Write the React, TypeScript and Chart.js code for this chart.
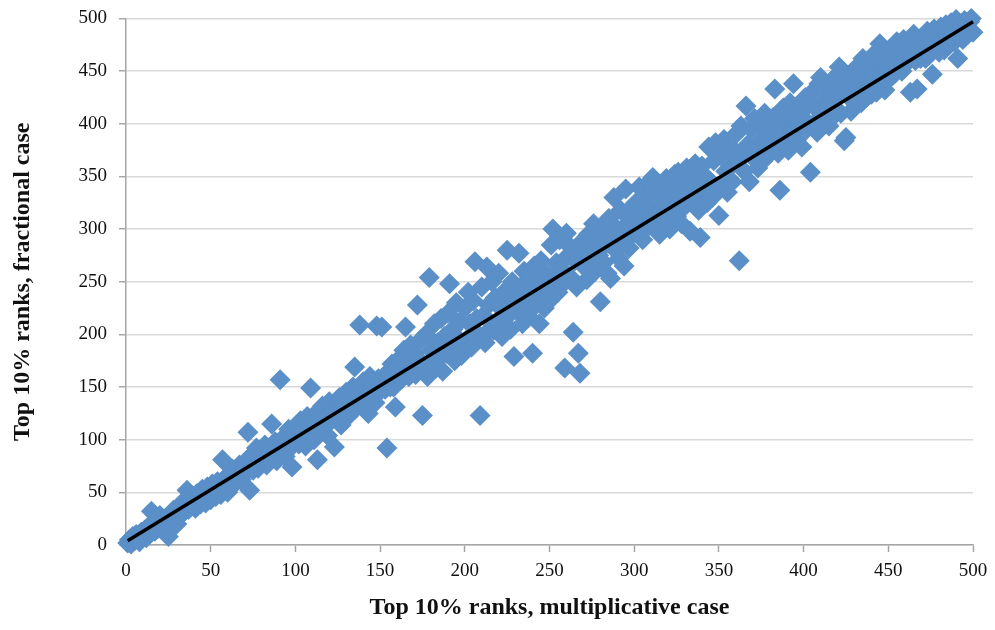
import { useEffect, useRef } from "react";
import { Chart, registerables } from "chart.js";

Chart.register(...registerables);

const axisTicks = [0, 50, 100, 150, 200, 250, 300, 350, 400, 450, 500];

const multiplicativeRank = [
  1, 2, 3, 4, 5, 6, 7, 8, 9, 10, 11, 12, 13, 14, 15, 16, 17, 18, 19, 20,
  21, 22, 23, 24, 25, 26, 27, 28, 29, 30, 31, 32, 33, 34, 35, 36, 37, 38, 39, 40,
  41, 42, 43, 44, 45, 46, 47, 48, 49, 50, 51, 52, 53, 54, 55, 56, 57, 58, 59, 60,
  61, 62, 63, 64, 65, 66, 67, 68, 69, 70, 71, 72, 73, 74, 75, 76, 77, 78, 79, 80,
  81, 82, 83, 84, 85, 86, 87, 88, 89, 90, 91, 92, 93, 94, 95, 96, 97, 98, 99, 100,
  101, 102, 103, 104, 105, 106, 107, 108, 109, 110, 111, 112, 113, 114, 115, 116, 117, 118, 119, 120,
  121, 122, 123, 124, 125, 126, 127, 128, 129, 130, 131, 132, 133, 134, 135, 136, 137, 138, 139, 140,
  141, 142, 143, 144, 145, 146, 147, 148, 149, 150, 151, 152, 153, 154, 155, 156, 157, 158, 159, 160,
  161, 162, 163, 164, 165, 166, 167, 168, 169, 170, 171, 172, 173, 174, 175, 176, 177, 178, 179, 180,
  181, 182, 183, 184, 185, 186, 187, 188, 189, 190, 191, 192, 193, 194, 195, 196, 197, 198, 199, 200,
  201, 202, 203, 204, 205, 206, 207, 208, 209, 210, 211, 212, 213, 214, 215, 216, 217, 218, 219, 220,
  221, 222, 223, 224, 225, 226, 227, 228, 229, 230, 231, 232, 233, 234, 235, 236, 237, 238, 239, 240,
  241, 242, 243, 244, 245, 246, 247, 248, 249, 250, 251, 252, 253, 254, 255, 256, 257, 258, 259, 260,
  261, 262, 263, 264, 265, 266, 267, 268, 269, 270, 271, 272, 273, 274, 275, 276, 277, 278, 279, 280,
  281, 282, 283, 284, 285, 286, 287, 288, 289, 290, 291, 292, 293, 294, 295, 296, 297, 298, 299, 300,
  301, 302, 303, 304, 305, 306, 307, 308, 309, 310, 311, 312, 313, 314, 315, 316, 317, 318, 319, 320,
  321, 322, 323, 324, 325, 326, 327, 328, 329, 330, 331, 332, 333, 334, 335, 336, 337, 338, 339, 340,
  341, 342, 343, 344, 345, 346, 347, 348, 349, 350, 351, 352, 353, 354, 355, 356, 357, 358, 359, 360,
  361, 362, 363, 364, 365, 366, 367, 368, 369, 370, 371, 372, 373, 374, 375, 376, 377, 378, 379, 380,
  381, 382, 383, 384, 385, 386, 387, 388, 389, 390, 391, 392, 393, 394, 395, 396, 397, 398, 399, 400,
  401, 402, 403, 404, 405, 406, 407, 408, 409, 410, 411, 412, 413, 414, 415, 416, 417, 418, 419, 420,
  421, 422, 423, 424, 425, 426, 427, 428, 429, 430, 431, 432, 433, 434, 435, 436, 437, 438, 439, 440,
  441, 442, 443, 444, 445, 446, 447, 448, 449, 450, 451, 452, 453, 454, 455, 456, 457, 458, 459, 460,
  461, 462, 463, 464, 465, 466, 467, 468, 469, 470, 471, 472, 473, 474, 475, 476, 477, 478, 479, 480,
  481, 482, 483, 484, 485, 486, 487, 488, 489, 490, 491, 492, 493, 494, 495, 496, 497, 498, 499, 500,
];

const fractionalRank = [
  2, 5, 1, 8, 4, 10, 6, 3, 12, 9, 14, 7, 17, 12, 32, 18, 13, 24, 16, 28,
  19, 14, 25, 11, 8, 27, 21, 33, 26, 20, 36, 28, 40, 31, 38, 52, 34, 44, 37, 46,
  35, 49, 42, 39, 53, 44, 40, 55, 47, 43, 58, 49, 46, 60, 53, 48, 81, 63, 55, 50,
  66, 60, 72, 58, 70, 64, 76, 62, 74, 68, 80, 107, 52, 85, 71, 79, 92, 73, 88, 78,
  84, 95, 76, 90, 81, 115, 86, 98, 80, 94, 157, 88, 102, 84, 97, 110, 92, 74, 105, 98,
  112, 96, 118, 101, 108, 94, 122, 104, 149, 113, 100, 125, 81, 117, 108, 132, 112, 121, 104, 136,
  118, 127, 93, 130, 120, 140, 114, 134, 126, 145, 122, 138, 128, 150, 169, 130, 142, 209, 134, 155,
  138, 148, 125, 160, 143, 152, 135, 208, 158, 146, 207, 160, 148, 92, 164, 150, 172, 150, 131, 168,
  158, 178, 158, 185, 207, 170, 160, 190, 165, 182, 162, 228, 176, 195, 123, 170, 200, 160, 254, 185,
  175, 210, 168, 192, 178, 215, 165, 198, 182, 220, 248, 188, 205, 175, 230, 196, 212, 180, 185, 225,
  195, 240, 210, 188, 232, 269, 215, 200, 123, 245, 218, 192, 264, 228, 205, 250, 204, 235, 212, 258,
  225, 198, 240, 215, 280, 230, 205, 250, 179, 238, 222, 277, 245, 210, 260, 232, 218, 255, 240, 182,
  265, 228, 248, 210, 270, 238, 225, 258, 242, 232, 285, 300, 250, 268, 240, 290, 262, 248, 168, 296,
  275, 255, 282, 202, 270, 245, 182, 163, 288, 265, 278, 252, 295, 270, 285, 305, 260, 290, 275, 231,
  300, 268, 285, 258, 310, 253, 295, 330, 280, 300, 272, 318, 290, 265, 338, 305, 282, 320, 295, 310,
  325, 298, 340, 312, 290, 330, 318, 302, 345, 320, 349, 305, 335, 315, 295, 340, 325, 310, 348, 330,
  300, 338, 320, 352, 312, 354, 330, 305, 345, 322, 358, 335, 298, 350, 328, 362, 340, 318, 292, 360,
  335, 350, 325, 378, 345, 330, 365, 382, 340, 313, 370, 340, 385, 355, 335, 375, 360, 345, 375, 390,
  365, 270, 398, 372, 355, 417, 380, 345, 395, 368, 405, 378, 358, 400, 385, 365, 410, 388, 370, 402,
  380, 406, 433, 390, 372, 337, 395, 415, 382, 400, 375, 420, 395, 438, 408, 385, 412, 398, 378, 405,
  425, 395, 418, 354, 430, 400, 415, 392, 438, 444, 420, 405, 432, 412, 398, 440, 422, 408, 445, 425,
  454, 410, 435, 384, 387, 440, 425, 412, 448, 432, 418, 455, 438, 420, 462, 442, 425, 450, 435, 428,
  465, 445, 430, 458, 476, 440, 455, 432, 468, 448, 470, 445, 462, 448, 478, 455, 470, 450, 480, 462,
  458, 475, 430, 468, 485, 460, 433, 478, 462, 482, 470, 462, 488, 465, 478, 447, 490, 472, 482, 468,
  492, 478, 470, 494, 482, 475, 496, 485, 478, 499, 462, 488, 495, 480, 498, 490, 485, 497, 500, 487,
];

const trendX = [1, 500];
const trendY = [4, 497];

const xTitle = "Top 10% ranks, multiplicative case";
const yTitle = "Top 10% ranks, fractional case";

const SERIF = "'Liberation Serif', 'DejaVu Serif', serif";
const AXIS_GRAY = "#a6a6a6";

export default function App() {
  const ref = useRef<HTMLCanvasElement | null>(null);

  useEffect(() => {
    if (!ref.current) return;
    const points = multiplicativeRank.map((x, i) => ({ x, y: fractionalRank[i] }));
    const trend = trendX.map((x, i) => ({ x, y: trendY[i] }));
    const tickFont = { family: SERIF, size: 19, lineHeight: 1.0 };
    const titleFont = { family: SERIF, size: 24, weight: "bold" as const };

    const chart = new Chart(ref.current, {
      type: "scatter",
      data: {
        datasets: [
          {
            label: "trend",
            data: trend,
            showLine: true,
            borderColor: "#000000",
            borderWidth: 3.5,
            pointRadius: 0,
            order: 0,
            clip: false as any,
          },
          {
            label: "ranks",
            data: points,
            pointStyle: "rectRot",
            pointRadius: 10.5,
            backgroundColor: "#5a8fc8",
            borderColor: "#5a8fc8",
            borderWidth: 0,
            order: 1,
            clip: false as any,
          },
        ],
      },
      options: {
        responsive: false,
        animation: false,
        events: [],
        layout: { padding: { top: 0, right: 0, left: 0, bottom: 0 } },
        plugins: {
          legend: { display: false },
          tooltip: { enabled: false },
        },
        scales: {
          x: {
            type: "linear",
            min: 0,
            max: 500,
            afterBuildTicks: (s: any) => {
              s.ticks = axisTicks.map((v) => ({ value: v }));
            },
            ticks: { font: tickFont, color: "#111", padding: 10, maxRotation: 0 },
            grid: {
              drawOnChartArea: false,
              drawTicks: true,
              tickLength: 7,
              tickColor: AXIS_GRAY,
              tickWidth: 1.5,
            },
            border: { color: AXIS_GRAY, width: 1.5 },
            title: {
              display: true,
              text: xTitle,
              font: titleFont,
              color: "#111",
              padding: { top: 0, bottom: 0 },
            },
            afterFit: (s: any) => {
              s.height = 77;
              s.paddingLeft = 0;
              s.paddingRight = 14;
            },
          },
          y: {
            type: "linear",
            min: 0,
            max: 500,
            afterBuildTicks: (s: any) => {
              s.ticks = axisTicks.map((v) => ({ value: v }));
            },
            ticks: { font: tickFont, color: "#111", padding: 12 },
            grid: {
              color: "#d9d9d9",
              lineWidth: 1.5,
              drawTicks: true,
              tickLength: 7,
              tickColor: AXIS_GRAY,
              tickWidth: 1.5,
            },
            border: { color: AXIS_GRAY, width: 1.5 },
            title: {
              display: true,
              text: yTitle,
              font: titleFont,
              color: "#111",
              padding: { top: 0, bottom: 0 },
            },
            afterFit: (s: any) => {
              s.width = 118;
              s.paddingTop = 10;
              s.paddingBottom = 0;
            },
          },
        },
      },
    });
    return () => chart.destroy();
  }, []);

  return (
    <canvas ref={ref} width={979} height={614} style={{ display: "block" }} />
  );
}
